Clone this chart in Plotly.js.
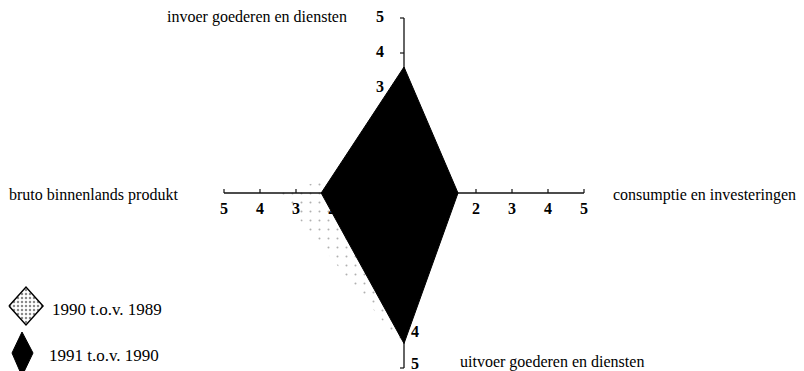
<!DOCTYPE html>
<html>
<head>
<meta charset="utf-8">
<script src="https://cdn.plot.ly/plotly-3.0.1.min.js"></script>
<style>
  html, body { margin: 0; padding: 0; background: #fff; }
  #chart { width: 804px; height: 371px; }
</style>
</head>
<body>
<div id="chart"></div>
<script>
// ---- data ----
const categories = ["invoer goederen en diensten", "consumptie en investeringen", "uitvoer goederen en diensten", "bruto binnenlands produkt"];
const seriesNames = ["1990 t.o.v. 1989", "1991 t.o.v. 1990"];
const values1990 = [1.0, 1.0, 4.4, 3.5];   // up, right, down, left
const values1991 = [3.6, 1.5, 4.3, 2.3];
const tickValues = [1, 2, 3, 4, 5];
const tickLabels = ["1", "2", "3", "4", "5"];

// ---- geometry helpers (layout only) ----
const W = 804, H = 371;
const CX = 404, CY = 193;       // centre pixel
const SX = 36, SY = 35;         // pixels per unit
const xRange = [-CX / SX, (W - CX) / SX];
const yRange = [-(H - CY) / SY, CY / SY];
const px = p => (p - CX) / SX;  // pixel -> data
const py = p => (CY - p) / SY;
const dirs = [[0, 1], [1, 0], [0, -1], [-1, 0]];

function diamond(vals) {
  const xs = [], ys = [];
  vals.forEach((v, i) => { xs.push(v * dirs[i][0]); ys.push(v * dirs[i][1]); });
  xs.push(xs[0]); ys.push(ys[0]);
  return { x: xs, y: ys };
}

const serif = "Liberation Serif, Times New Roman, serif";
const traces = [];

// 1990 diamond (light dotted)
const d90 = diamond(values1990);
traces.push({
  x: d90.x, y: d90.y, mode: "lines", fill: "toself",
  line: { width: 0, color: "rgba(0,0,0,0)" },
  fillcolor: "rgba(0,0,0,0)",
  fillpattern: { shape: ".", fgcolor: "#b0b0b0", size: 9, solidity: 0.04 },
  hoverinfo: "skip", showlegend: false
});

// axes lines and ticks
const tickLenX = 4 / SX, tickLenY = 4 / SY;
dirs.forEach((d, i) => {
  const max = tickValues[tickValues.length - 1];
  const xs = [0, max * d[0]], ys = [0, max * d[1]];
  traces.push({ x: xs, y: ys, mode: "lines", line: { color: "#111", width: 1.3 }, hoverinfo: "skip", showlegend: false });
  const tx = [], ty = [];
  tickValues.forEach(v => {
    if (d[1] === 0) { // horizontal axis: ticks up
      tx.push(v * d[0], v * d[0], null); ty.push(0, tickLenY, null);
    } else {          // vertical axis: ticks left
      tx.push(0, -tickLenX, null); ty.push(v * d[1], v * d[1], null);
    }
  });
  traces.push({ x: tx, y: ty, mode: "lines", line: { color: "#111", width: 1.2 }, hoverinfo: "skip", showlegend: false });
});

// tick labels as text traces (so the black diamond can cover hidden ones)
const labelOffsets = [
  [-24 / SX, 0],   // up axis: left of axis
  [0, -17 / SY],   // right axis: below
  [11 / SX, 0],    // down axis: right of axis
  [0, -17 / SY]    // left axis: below
];
dirs.forEach((d, i) => {
  traces.push({
    x: tickValues.map(v => v * d[0] + labelOffsets[i][0]),
    y: tickValues.map(v => v * d[1] + labelOffsets[i][1] + (i === 2 && v === 5 ? 0.1 : 0)),
    text: tickLabels, mode: "text", textposition: "middle center",
    textfont: { family: serif, size: 16, color: "#000", weight: "bold" },
    hoverinfo: "skip", showlegend: false
  });
});

// 1991 diamond (solid black)
const d91 = diamond(values1991);
traces.push({
  x: d91.x, y: d91.y, mode: "lines", fill: "toself",
  line: { width: 1, color: "#000" }, fillcolor: "#000",
  hoverinfo: "skip", showlegend: false
});

// legend symbols
traces.push({
  x: [px(9), px(26), px(43), px(26), px(9)],
  y: [py(306), py(287), py(306), py(325), py(306)],
  mode: "lines", fill: "toself", line: { color: "#000", width: 1.5 },
  fillcolor: "rgba(0,0,0,0)",
  fillpattern: { shape: ".", fgcolor: "#8a8a8a", size: 4, solidity: 0.3 },
  hoverinfo: "skip", showlegend: false
});
traces.push({
  x: [px(12), px(22), px(33), px(22), px(12)],
  y: [py(353), py(332), py(353), py(376), py(353)],
  mode: "lines", fill: "toself", line: { color: "#000", width: 1 },
  fillcolor: "#000", hoverinfo: "skip", showlegend: false
});

const titleFont = { family: serif, size: 16, color: "#000" };
const legendFont = { family: serif, size: 17, color: "#000" };
const annotations = [
  { text: categories[0], x: px(349), y: py(17), xanchor: "right", yanchor: "middle", font: titleFont },
  { text: categories[1], x: px(611), y: py(195), xanchor: "left", yanchor: "middle", font: titleFont },
  { text: categories[2], x: px(458), y: py(362), xanchor: "left", yanchor: "middle", font: titleFont },
  { text: categories[3], x: px(7), y: py(195), xanchor: "left", yanchor: "middle", font: titleFont },
  { text: seriesNames[0], x: px(50), y: py(309), xanchor: "left", yanchor: "middle", font: legendFont },
  { text: seriesNames[1], x: px(47), y: py(355), xanchor: "left", yanchor: "middle", font: legendFont }
].map(a => Object.assign(a, { xref: "x", yref: "y", showarrow: false }));

const layout = {
  width: W, height: H,
  margin: { l: 0, r: 0, t: 0, b: 0, pad: 0 },
  paper_bgcolor: "#fff", plot_bgcolor: "#fff",
  xaxis: { range: xRange, visible: false, fixedrange: true },
  yaxis: { range: yRange, visible: false, fixedrange: true },
  showlegend: false,
  annotations: annotations
};

Plotly.newPlot("chart", traces, layout, { displayModeBar: false, staticPlot: true });
</script>
</body>
</html>
